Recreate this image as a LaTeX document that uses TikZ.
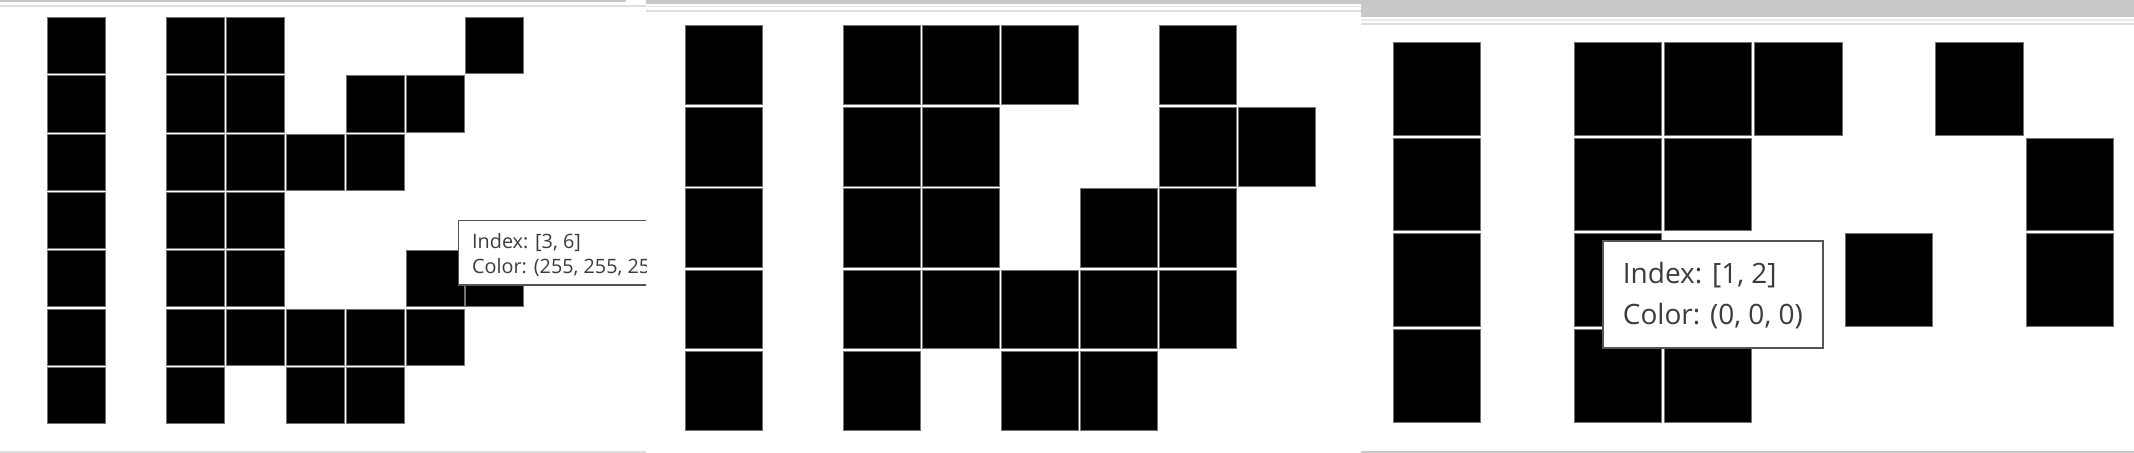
\documentclass[tikz,border=0pt]{standalone}
\usepackage{fontspec}
\newfontfamily\tipfont{Open Sans}
\definecolor{bar}{RGB}{200,200,200}
\definecolor{rule}{RGB}{222,222,222}
\definecolor{edge}{RGB}{85,85,85}
\definecolor{tiptext}{RGB}{60,60,60}
\begin{document}
\begin{tikzpicture}[x=1bp,y=-1bp,
	pixel/.style={fill=black,draw=black!55,line width=0.6bp},
	tipbox/.style={fill=white,draw=edge,line width=1.5bp},
	tiptxt/.style={anchor=base west,inner sep=0pt,text=tiptext}]
	\useasboundingbox[fill=white] (0,0) rectangle (2134,453);
	
	\fill [bar] (0,0) rectangle (626,2.5);
	\fill [rule] (0,5) rectangle (646,7);
	\fill [rule] (0,451) rectangle (646,453);
	\fill [bar] (646,0) rectangle (1361,4.3);
	\fill [rule!60] (646,6) rectangle (1361,7);
	\fill [rule] (646,10) rectangle (1361,12);
	\fill [bar] (1361,0) rectangle (2134,17);
	\fill [rule!60] (1361,19) rectangle (2134,21);
	\fill [rule] (1361,23) rectangle (2134,25);
	\fill [bar] (1361,451) rectangle (2134,453);
	
	\begin{scope}[shift={(47.1,17.3)},x=59.8bp,y=-58.3bp]
		\foreach \c/\r in {0/0,2/0,3/0,7/0,
			0/1,2/1,3/1,5/1,6/1,
			0/2,2/2,3/2,4/2,5/2,
			0/3,2/3,3/3,
			0/4,2/4,3/4,6/4,7/4,
			0/5,2/5,3/5,4/5,5/5,6/5,
			0/6,2/6,4/6,5/6}
			\draw [pixel] (\c,\r) rectangle ++(0.97,0.965);
	\end{scope}
	
	\begin{scope}[shift={(685.5,25.7)},x=78.9bp,y=-81.4bp]
		\foreach \c/\r in {0/0,2/0,3/0,4/0,6/0,
			0/1,2/1,3/1,6/1,7/1,
			0/2,2/2,3/2,5/2,6/2,
			0/3,2/3,3/3,4/3,5/3,6/3,
			0/4,2/4,4/4,5/4}
			\draw [pixel] (\c,\r) rectangle ++(0.977,0.967);
	\end{scope}
	
	\begin{scope}[shift={(1393,42.3)},x=90.4bp,y=-95.6bp]
		\foreach \c/\r in {0/0,2/0,3/0,4/0,6/0,
			0/1,2/1,3/1,7/1,
			0/2,2/2,5/2,7/2,
			0/3,2/3,3/3}
			\draw [pixel] (\c,\r) rectangle ++(0.968,0.97);
	\end{scope}
	
	\begin{scope}
		\clip (0,0) rectangle (646,453);
		\draw [tipbox] (458.3,220.7) rectangle (720,285);
		\node [tiptxt,font=\tipfont\fontsize{19.8bp}{24bp}\selectfont] (indexA) at (472,248.3) {Index: [3, 6]};
		\node [tiptxt,font=\tipfont\fontsize{19.8bp}{24bp}\selectfont] (colorA) at (472,274) {Color: (255, 255, 255)};
	\end{scope}
	
	\draw [tipbox,line width=2bp] (1603.3,240.7) rectangle (1823.3,348.3);
	\node [tiptxt,font=\tipfont\fontsize{28bp}{34bp}\selectfont] (indexB) at (1622.7,283.3) {Index: [1, 2]};
	\node [tiptxt,font=\tipfont\fontsize{28bp}{34bp}\selectfont] (colorB) at (1622.7,324.3) {Color: (0, 0, 0)};
\end{tikzpicture}
\end{document}
